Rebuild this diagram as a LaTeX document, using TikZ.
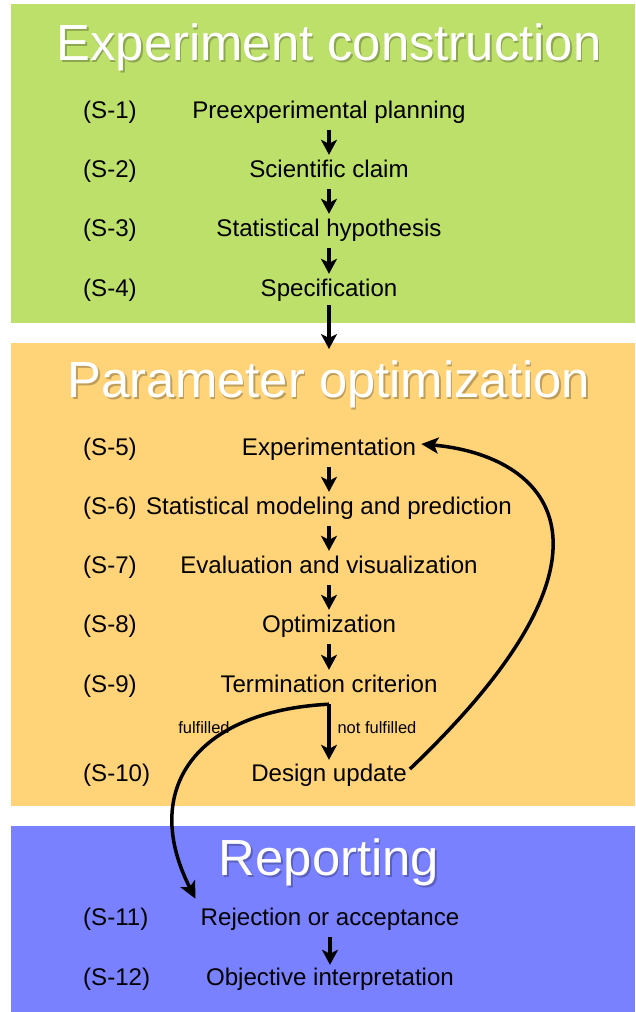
\documentclass[tikz,border=0pt]{standalone}
\usepackage{fontspec}
\setmainfont{Liberation Sans}
\usetikzlibrary{arrows.meta,calc}
\definecolor{construct}{HTML}{BDE06B}
\definecolor{optimize}{HTML}{FFD479}
\definecolor{report}{HTML}{7A81FF}
\tikzset{
  panel/.style={inner sep=0pt, outer sep=0pt, anchor=north west},
  steptext/.style={font=\fontsize{24.1}{27}\selectfont, anchor=base, inner sep=0pt, text height=17pt, text depth=5pt},
  steplabel/.style={font=\fontsize{24.1}{27}\selectfont, anchor=base west, inner sep=0pt},
  heading/.style={font=\fontsize{50.8}{56}\selectfont, text=white, anchor=base, inner sep=0pt},
  headshadow/.style={font=\fontsize{50.8}{56}\selectfont, text=black, opacity=0.25, anchor=base, inner sep=0pt},
  flow/.style={line width=3.5pt, -{Stealth[length=15pt,width=16pt,inset=4pt]}, shorten <=7pt, shorten >=5pt},
  branch/.style={line width=3.5pt, -{Stealth[length=17pt,width=16pt,inset=4pt]}},
  branchlabel/.style={font=\fontsize{16.5}{18}\selectfont, anchor=base, inner sep=0pt},
}
% white stage title with a soft drop shadow
\newcommand\stagetitle[3]{%
  \node[headshadow] at ($(#2)+(1.5,2.5)$) {#3};
  \node[heading] (#1) at (#2) {#3};}
\begin{document}
\begin{tikzpicture}[x=1pt,y=-1pt]
\useasboundingbox (0,0) rectangle (635,1012);

% stage panels
\node[panel, fill=construct, minimum width=624pt, minimum height=319pt] (pc) at (11,4) {};
\node[panel, fill=optimize, minimum width=624pt, minimum height=463pt] (po) at (11,343) {};
\node[panel, fill=report, minimum width=624pt, minimum height=186pt] (pr) at (11,826) {};

% stage titles
\stagetitle{hc}{329,60}{Experiment construction}
\stagetitle{ho}{329,397}{Parameter optimization}
\stagetitle{hr}{329,875}{Reporting}

% step labels
\node[steplabel] (l1) at (83,118) {(S-1)};
\node[steplabel] (l2) at (83,177) {(S-2)};
\node[steplabel] (l3) at (83,236) {(S-3)};
\node[steplabel] (l4) at (83,296) {(S-4)};
\node[steplabel] (l5) at (83,455) {(S-5)};
\node[steplabel] (l6) at (83,514) {(S-6)};
\node[steplabel] (l7) at (83,573) {(S-7)};
\node[steplabel] (l8) at (83,632) {(S-8)};
\node[steplabel] (l9) at (83,692) {(S-9)};
\node[steplabel] (l10) at (83,781) {(S-10)};
\node[steplabel] (l11) at (83,925) {(S-11)};
\node[steplabel] (l12) at (83,985) {(S-12)};

% steps
\node[steptext] (s1) at (329,118) {Preexperimental planning};
\node[steptext] (s2) at (329,177) {Scientific claim};
\node[steptext] (s3) at (329,236) {Statistical hypothesis};
\node[steptext] (s4) at (329,296) {Specification};
\node[steptext] (s5) at (329,455) {Experimentation};
\node[steptext] (s6) at (329,514) {Statistical modeling and prediction};
\node[steptext] (s7) at (329,573) {Evaluation and visualization};
\node[steptext] (s8) at (329,632) {Optimization};
\node[steptext] (s9) at (329,692) {Termination criterion};
\node[steptext] (s10) at (329,781) {Design update};
\node[steptext] (s11) at (330,925) {Rejection or acceptance};
\node[steptext] (s12) at (330,985) {Objective interpretation};

% sequential flow
\draw[flow] (s1) -- (s2);
\draw[flow] (s2) -- (s3);
\draw[flow] (s3) -- (s4);
\draw[flow, shorten <=4pt, shorten >=-6pt] (s4) -- (s4.south |- po.north);
\draw[flow] (s5) -- (s6);
\draw[flow] (s6) -- (s7);
\draw[flow] (s7) -- (s8);
\draw[flow] (s8) -- (s9);
\draw[flow, shorten >=4pt] (s9) -- (s10);
\draw[flow, shorten >=3pt] (s11) -- (s12);

% branches at the termination criterion
\coordinate (split) at ($(s9.south)+(0,7)$);
\coordinate (accept) at ($(s11.north west)+(-5,-9)$);
\draw[branch] (split) .. controls (195,711) and (140,790) .. (accept);
\coordinate (loopstart) at ($(s10.east)+(3,-6)$);
\coordinate (loopend) at ($(s5.east)+(5,-5)$);
\draw[branch] (loopstart) .. controls (645,545) and (545,455) .. (loopend);

\node[branchlabel] (fl) at (204,733) {fulfilled};
\node[branchlabel] (nfl) at (377,733) {not fulfilled};
\end{tikzpicture}
\end{document}
